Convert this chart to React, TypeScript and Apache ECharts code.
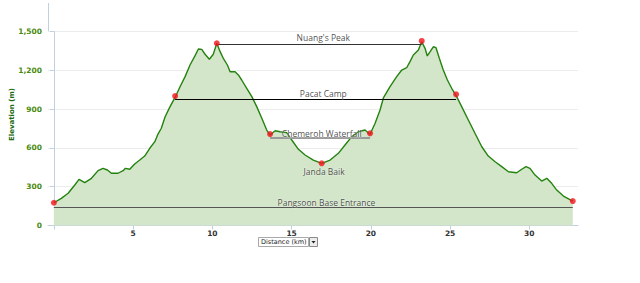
import React, { useEffect, useRef } from "react";
import * as echarts from "echarts";

const distanceKm = [
  0.0, 0.47, 0.9, 1.32, 1.59, 1.95, 2.37, 2.79, 3.1, 3.38, 3.63, 4.05, 4.37, 4.51, 4.79,
  5.1, 5.42, 5.73, 6.05, 6.37, 6.57, 6.78, 7.02, 7.33, 7.65, 7.96, 8.28, 8.59, 8.91, 9.12,
  9.33, 9.54, 9.81, 10.06, 10.28, 10.49, 10.69, 10.95, 11.12, 11.43, 11.64, 11.85, 12.17,
  12.49, 12.8, 13.12, 13.43, 13.64, 13.96, 14.27, 14.69, 15.01, 15.43, 15.85, 16.37, 16.9,
  17.43, 17.95, 18.37, 18.8, 19.21, 19.63, 19.95, 20.27, 20.58, 20.79, 21.21, 21.63, 21.95,
  22.26, 22.47, 22.68, 23.0, 23.21, 23.42, 23.56, 23.74, 23.94, 24.11, 24.32, 24.57, 24.83,
  25.1, 25.38, 25.73, 26.15, 26.57, 27.0, 27.41, 27.84, 28.26, 28.68, 29.2, 29.52, 29.79,
  30.04, 30.36, 30.78, 31.1, 31.41, 31.73, 32.15, 32.74,
];
const elevationM = [
  176, 210, 249, 313, 357, 331, 365, 424, 442, 429, 404, 404, 424, 442, 435,
  476, 506, 537, 597, 648, 707, 752, 841, 919, 990, 1073, 1151, 1241, 1313, 1365,
  1362, 1324, 1285, 1324, 1409, 1344, 1293, 1241, 1189, 1189, 1164, 1125, 1061,
  996, 919, 829, 738, 700, 733, 725, 718, 661, 589, 545, 506, 481,
  506, 558, 622, 687, 725, 738, 705, 790, 893, 986, 1073, 1151, 1202,
  1220, 1267, 1318, 1357, 1420, 1370, 1311, 1344, 1382, 1375, 1293, 1202, 1125,
  1061, 1005, 919, 816, 713, 609, 537, 493, 455, 416, 408, 435, 455,
  442, 390, 344, 365, 326, 274, 228, 189,
];

const waypointKm = [0, 7.65, 10.28, 13.64, 16.9, 19.95, 23.21, 25.38, 32.74];
const waypointM = [176, 1001, 1409, 707, 481, 713, 1427, 1014, 189];

const lineNames = ["Nuang's Peak", "Pacat Camp", "Chemeroh Waterfall", "Pangsoon Base Entrance"];
const lineFromKm = [10.28, 7.65, 13.64, 0];
const lineToKm = [23.21, 25.38, 19.95, 32.74];
const lineM = [1403, 978, 682, 143];

const labelNames = ["Nuang's Peak", "Pacat Camp", "Chemeroh Waterfall", "Janda Baik", "Pangsoon Base Entrance"];
const labelKm = [17.0, 17.0, 16.9, 17.05, 17.2];
const labelM = [1403, 978, 682, 481, 143];

const xTickKm = [0, 5, 10, 15, 20, 25, 30];
const xLabelKm = [5, 10, 15, 20, 25, 30];

const lineColors = ["#333333", "#000000", "#9a9a9a", "#555555"];
const lineWidths = [1, 1.2, 2, 1.2];
const labelOffsets = [-6.5, -6, -4, 8, -5];

export default function App() {
  const ref = useRef<HTMLDivElement>(null);
  useEffect(() => {
    if (!ref.current) return;
    const chart = echarts.init(ref.current, null, { renderer: "svg" });
    const axisColor = "#C0D0E0";
    const option: any = {
      animation: false,
      textStyle: { fontFamily: "Open Sans" },
      grid: { left: 48, right: 62, top: 31.5, bottom: 57.5, containLabel: false, outerBoundsMode: "none" },
      xAxis: {
        type: "value",
        min: -0.37,
        max: 33.07,
        axisLine: { show: true, lineStyle: { color: axisColor, width: 1 } },
        axisTick: { show: true, length: 4, customValues: xTickKm, lineStyle: { color: axisColor } },
        axisLabel: {
          customValues: xLabelKm,
          margin: 4,
          color: "#333",
          fontSize: 7.5,
          fontWeight: "bold",
          fontFamily: "DejaVu Sans",
        },
        splitLine: { show: false },
      },
      yAxis: {
        type: "value",
        min: 0,
        max: 1500,
        interval: 300,
        name: "Elevation (m)",
        nameLocation: "middle",
        nameRotate: 90,
        nameGap: 33,
        nameMoveOverlap: false,
        nameTextStyle: { color: "#1d6b12", fontWeight: "bold", fontSize: 7, fontFamily: "DejaVu Sans", padding: [0, 0, 0, 28] },
        axisLine: { show: true, lineStyle: { color: axisColor, width: 1 } },
        axisTick: { show: true, length: 4, lineStyle: { color: axisColor } },
        axisLabel: {
          margin: 6,
          color: "#4a8a0e",
          fontSize: 7.5,
          fontWeight: "bold",
          fontFamily: "DejaVu Sans",
          formatter: (v: number) => v.toLocaleString("en-US"),
        },
        splitLine: { show: true, lineStyle: { color: "#ececec", width: 1 } },
      },
      series: [
        {
          type: "line",
          data: distanceKm.map((d, i) => [d, elevationM[i]]),
          showSymbol: false,
          symbol: "none",
          lineStyle: { color: "#24820f", width: 1.4 },
          areaStyle: { color: "#d3e6c9", opacity: 1 },
          z: 2,
          markLine: {
            silent: true,
            symbol: ["none", "none"],
            label: { show: false },
            data: lineNames.map((n, i) => [
              { name: n, coord: [lineFromKm[i], lineM[i]], lineStyle: { color: lineColors[i], width: lineWidths[i], type: "solid" } },
              { coord: [lineToKm[i], lineM[i]] },
            ]),
          },
        },
        {
          type: "scatter",
          data: waypointKm.map((d, i) => [d, waypointM[i]]),
          symbol: "circle",
          symbolSize: 6,
          itemStyle: { color: "#f2141c" },
          z: 5,
        },
        {
          type: "scatter",
          silent: true,
          data: labelNames.map((n, i) => ({
            value: [labelKm[i], labelM[i]],
            name: n,
            label: { offset: [0, labelOffsets[i]] },
          })),
          symbol: "circle",
          symbolSize: 1,
          itemStyle: { color: "rgba(0,0,0,0)" },
          label: {
            show: true,
            position: "inside",
            formatter: (p: any) => p.name,
            color: "#222",
            fontSize: 8.5,
            fontFamily: "Open Sans",
            textBorderColor: "rgba(255,255,255,0.5)",
            textBorderWidth: 1,
          },
          z: 6,
        },
      ],
      graphic: [
        { type: "line", shape: { x1: 48.5, y1: 3, x2: 48.5, y2: 32 }, style: { stroke: axisColor, lineWidth: 1 } },
        {
          type: "group",
          children: [
            { type: "rect", shape: { x: 258.5, y: 237.5, width: 50, height: 9 }, style: { fill: "#fff", stroke: "#a9a9a9", lineWidth: 1 } },
            { type: "text", style: { x: 261, y: 242.3, text: "Distance (km)", fill: "#222", fontSize: 6.5, fontFamily: "DejaVu Sans", verticalAlign: "middle" } },
            { type: "rect", shape: { x: 309.5, y: 237.5, width: 8, height: 9 }, style: { fill: "#ececec", stroke: "#8a8a8a", lineWidth: 1 } },
            { type: "polygon", shape: { points: [[311.5, 241], [315.5, 241], [313.5, 243.5]] }, style: { fill: "#222" } },
          ],
        },
      ],
    };
    chart.setOption(option);
    return () => chart.dispose();
  }, []);
  return <div ref={ref} style={{ width: 640, height: 283, position: "absolute", left: 0, top: 0 }} />;
}
